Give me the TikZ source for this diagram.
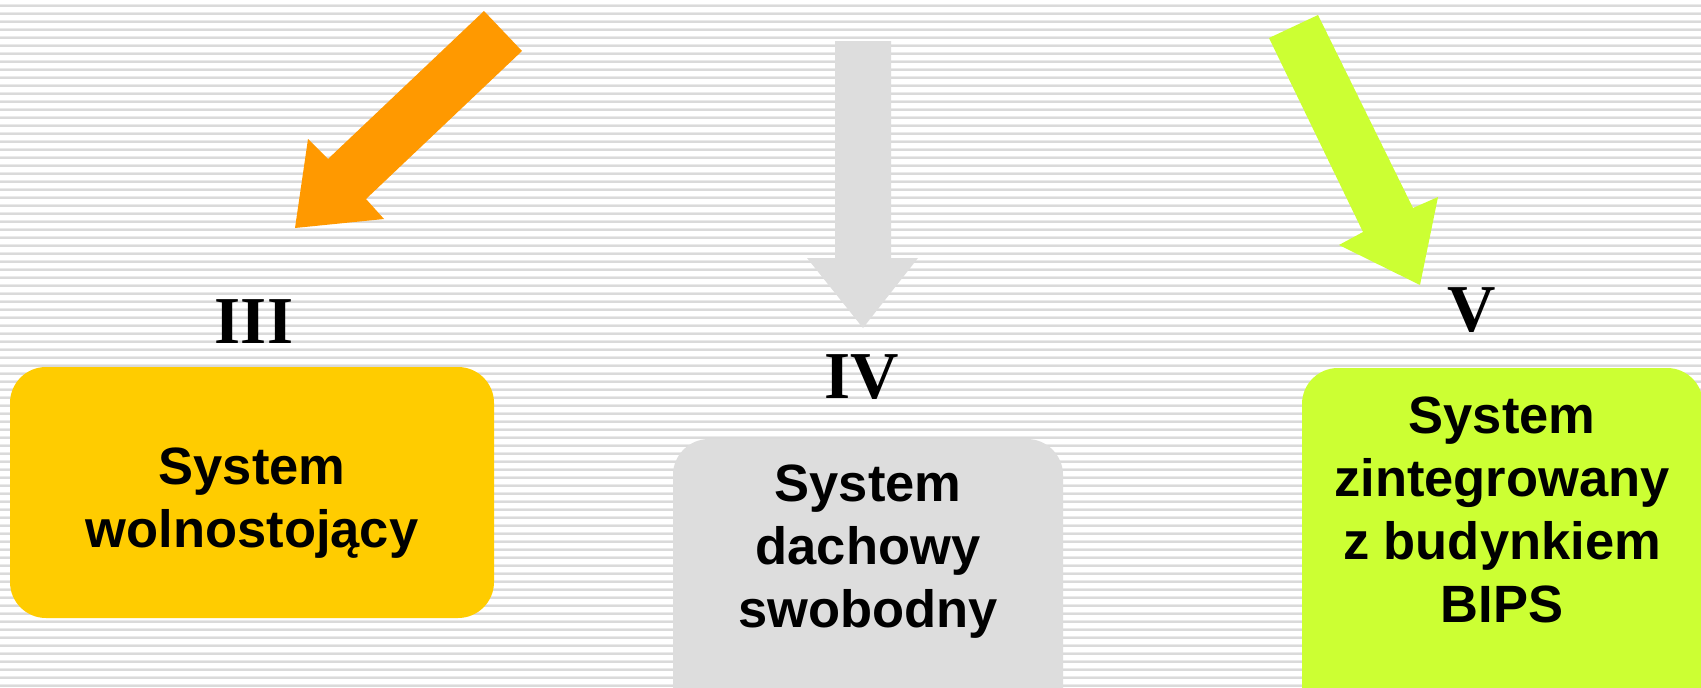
\documentclass[tikz,border=0pt]{standalone}
\usepackage{fontspec}
\setmainfont{Liberation Sans}
\newfontfamily\numfont{Liberation Serif}
\definecolor{stripeA}{HTML}{EAEAEA}
\definecolor{stripeB}{HTML}{DADADA}
\definecolor{orangeA}{HTML}{FF9900}
\definecolor{boxOrange}{HTML}{FFCC00}
\definecolor{greyA}{HTML}{DDDDDD}
\definecolor{limeA}{HTML}{CCFF33}
\begin{document}
\begin{tikzpicture}[x=1pt,y=-1pt,
  sysbox/.style={fill=#1, rounded corners=36pt, draw=none},
  systext/.style={font=\fontsize{52.5}{63}\selectfont\bfseries, align=center, text=black},
  numeral/.style={font=\fontsize{67}{70}\selectfont\numfont\bfseries, text=black, anchor=base, inner sep=0pt}]
  \useasboundingbox (0,0) rectangle (1701,688);
  % striped background
  \fill[white] (0,0) rectangle (1701,688);
  \foreach \k in {0,...,86} {
    \fill[stripeA] (0,{4+8*\k}) rectangle (1701,{5.3+8*\k});
    \fill[stripeB] (0,{5.3+8*\k}) rectangle (1701,{6.6+8*\k});
  }
  % block arrows
  \fill[orangeA] (484,11) -- (522,51) -- (366,199) -- (384,219) -- (295,228)
    -- (308,139) -- (328,159) -- cycle;
  \fill[greyA] (835,41) -- (891,41) -- (891,258) -- (918,258) -- (863,328)
    -- (807,258) -- (835,258) -- cycle;
  \fill[limeA] (1269,38) -- (1318,15) -- (1413,208) -- (1438,197) -- (1420,285)
    -- (1339,245) -- (1363,232) -- cycle;
  % boxes
  \fill[sysbox=boxOrange] (10,367) rectangle (494,618);
  \fill[sysbox=greyA] (673,439) rectangle (1063,730);
  \fill[sysbox=limeA] (1302,368) rectangle (1703,730);
  % labels
  \node[numeral] (n3) at (254,343) {III};
  \node[numeral] (n4) at (862,398) {IV};
  \node[numeral] (n5) at (1472,331) {V};
  \node[systext] (t3) at (252,503) {System\\wolnostojący};
  \node[systext] (t4) at (868,552) {System\\dachowy\\swobodny};
  \node[systext] (t5) at (1502,510) {System\\zintegrowany\\z budynkiem\\BIPS};
\end{tikzpicture}
\end{document}
